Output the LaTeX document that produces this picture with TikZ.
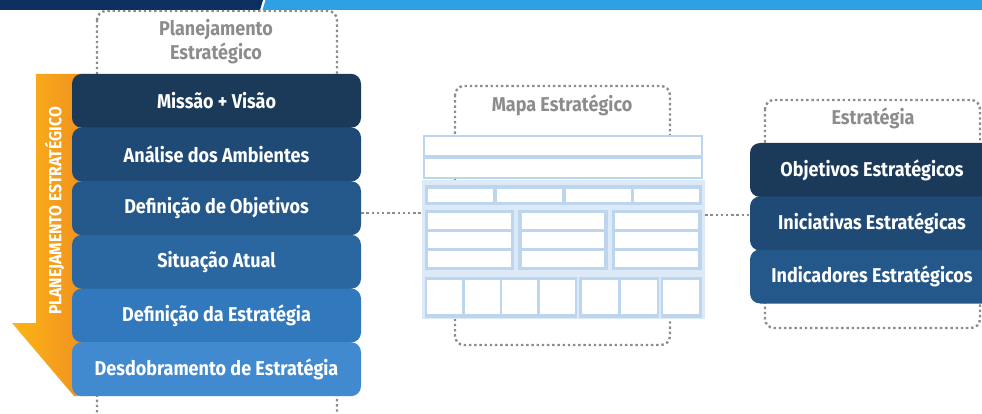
\documentclass[tikz,border=0pt]{standalone}
\usepackage{fontspec}
\setmainfont{Fira Sans}[FakeStretch=0.9]
\definecolor{navybar}{HTML}{0B2F5E}
\definecolor{skybar}{HTML}{2EA0E4}
\definecolor{dotgrey}{HTML}{8C8C8C}
\definecolor{rowA}{HTML}{1B3A5A}
\definecolor{rowB}{HTML}{1F4A75}
\definecolor{rowC}{HTML}{24578A}
\definecolor{rowD}{HTML}{2A67A0}
\definecolor{rowE}{HTML}{3178BC}
\definecolor{rowF}{HTML}{428AD0}
\definecolor{arrowL}{HTML}{FCB514}
\definecolor{arrowR}{HTML}{EF8E22}
\definecolor{mapfill}{HTML}{DCE9F6}
\definecolor{mapband}{HTML}{BDD6EE}
\tikzset{
  dotbox/.style={draw=dotgrey, line width=2.4pt, dash pattern=on 2.4pt off 2.8pt, rounded corners=9pt},
  dotlink/.style={draw=dotgrey, line width=2.4pt, dash pattern=on 2.4pt off 2.8pt},
  stackbox/.style={rectangle, rounded corners=10pt, inner sep=0pt, minimum height=54pt,
    text=white, font=\bfseries\fontsize{20}{22}\selectfont},
  leftbox/.style={stackbox, minimum width=289pt},
  rightbox/.style={stackbox, minimum width=244pt},
  grouptitle/.style={text=dotgrey, font=\bfseries\fontsize{20}{24}\selectfont, align=center, inner sep=0pt},
  cell/.style={fill=white},
  band/.style={fill=mapband}
}
\begin{document}
\begin{tikzpicture}[x=1pt, y=-1pt]
\useasboundingbox (0,0) rectangle (982,414);
\clip (0,0) rectangle (982,414);

% header bar
\fill[navybar] (0,0) -- (263,0) -- (260,10) -- (0,10) -- cycle;
\fill[skybar] (265.5,0) -- (982,0) -- (982,10) -- (262.5,10) -- cycle;

% dotted group frames
\draw[dotbox] (97,11) rectangle (337,430);
\node[grouptitle] (tplan) at (216,42) {Planejamento\\Estratégico};
\draw[dotbox] (455,86) rectangle (670,345);
\node[grouptitle] (tmapa) at (562,105) {Mapa Estratégico};
\draw[dotbox] (765,100) rectangle (980,328);
\node[grouptitle] (testr) at (873,118) {Estratégia};

% orange arrow behind the stack
\shade[left color=arrowL, right color=arrowR]
  (36,74) -- (90,74) -- (90,396) -- (74,396) -- (12,323) -- (36,323) -- cycle;
\node[rotate=90, text=white, inner sep=0pt, font=\bfseries\fontsize{17.5}{17.5}\selectfont] (vlabel)
  at (54.5,211) {PLANEJAMENTO ESTRATÉGICO};

% left stack
\node[leftbox, fill=rowA] (a1) at (216.5,100.8) {Missão + Visão};
\node[leftbox, fill=rowB] (a2) at (216.5,154.5) {Análise dos Ambientes};
\node[leftbox, fill=rowC] (a3) at (216.5,208.2) {Definição de Objetivos};
\node[leftbox, fill=rowD] (a4) at (216.5,261.8) {Situação Atual};
\node[leftbox, fill=rowE] (a5) at (216.5,315.5) {Definição da Estratégia};
\node[leftbox, fill=rowF] (a6) at (216.5,369.2) {Desdobramento de Estratégia};

% strategy map sketch
\node[minimum width=283pt, minimum height=186pt, inner sep=0pt] (map) at (563.5,226) {};
\fill[mapfill] (422,180) rectangle (705,319);
\draw[mapband, line width=2pt, fill=white] (424,136) rectangle (702,156);
\draw[mapband, line width=2pt, fill=white] (424,158) rectangle (702,178);
% row of four
\fill[band] (425,185) rectangle (702,205);
\foreach \xa/\xb in {428/493, 497/562, 566/631, 634/699}
  \fill[cell] (\xa,189) rectangle (\xb,202);
% three groups of three
\foreach \ga/\gb/\xa/\xb in {425/514/428/511, 518/608/522/604, 612/702/615/698}{
  \fill[band] (\ga,210) rectangle (\gb,270);
  \foreach \ya/\yb in {213/229, 232/248, 251/267}
    \fill[cell] (\xa,\ya) rectangle (\xb,\yb);
}
% bottom row of blocks
\fill[band] (425,277) rectangle (577,318);
\fill[band] (579,277) rectangle (659,318);
\fill[band] (661,277) rectangle (702,318);
\foreach \xa/\xb in {427/462, 465/500, 502/537, 540/575, 582/618, 621/657, 663/699}
  \fill[cell] (\xa,280) rectangle (\xb,314);

% right stack
\node[rightbox, fill=rowA] (b1) at (872,170) {Objetivos Estratégicos};
\node[rightbox, fill=rowB] (b2) at (872,223.5) {Iniciativas Estratégicas};
\node[rightbox, fill=rowC] (b3) at (872,276.5) {Indicadores Estratégicos};

% dotted links
\coordinate (lineL) at (0,213);
\coordinate (lineR) at (0,215);
\draw[dotlink] (a3.east |- lineL) -- (map.west |- lineL);
\draw[dotlink] (map.east |- lineR) -- (b2.west |- lineR);
\end{tikzpicture}
\end{document}
